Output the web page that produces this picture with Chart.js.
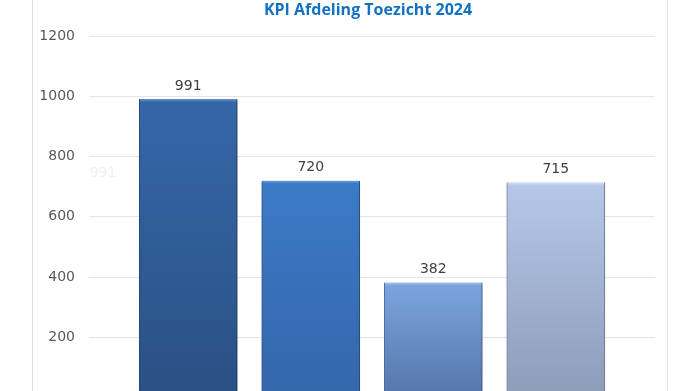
<!DOCTYPE html>
<html>
<head>
<meta charset="utf-8">
<script src="https://cdn.jsdelivr.net/npm/chart.js@4"></script>
<style>
  html, body { margin: 0; padding: 0; background: #ffffff; overflow: hidden; }
  #clip { width: 695px; height: 391px; overflow: hidden; position: relative; }
  #box { width: 695px; height: 420px; position: absolute; left: 0; top: 0; }
</style>
</head>
<body>
<div id="clip"><div id="box"><canvas id="c"></canvas></div></div>
<script>
// ---- data ----
const chartTitle = 'KPI Afdeling Toezicht 2024';
const categories = ['1', '2', '3', '4'];          // x labels are cut off in the reference
const values = [991, 720, 382, 715];
const yTicks = [0, 200, 400, 600, 800, 1000, 1200];
const ghostLabel = '991';

// ---- styles ----
const barTop = ['#3567a8', '#3c7ac6', '#7ba4de', '#b5c7e8'];
const barBottom = ['#2a5084', '#3466ab', '#5475ab', '#8e9bb9'];
const barBevel = ['#6594d2', '#6fa3e6', '#a6c4ee', '#dce6f7'];
const barEdge = ['#244777', '#2d5a97', '#4d6ea4', '#8190ad'];

const tickFont = { family: 'DejaVu Sans', size: 14 };

const framePlugin = {
  id: 'frame',
  beforeDraw(chart) {
    const ctx = chart.ctx;
    ctx.save();
    ctx.strokeStyle = '#e1e1e1';
    ctx.lineWidth = 1;
    ctx.beginPath();
    ctx.moveTo(32.5, 0); ctx.lineTo(32.5, chart.height);
    ctx.moveTo(667.5, 0); ctx.lineTo(667.5, chart.height);
    ctx.stroke();
    // title
    ctx.fillStyle = '#1272c2';
    ctx.font = 'bold 16px "Open Sans"';
    ctx.textAlign = 'center';
    ctx.textBaseline = 'middle';
    ctx.fillText(chartTitle, 368, 10);
    // faint ghost label
    ctx.fillStyle = '#f1f1f1';
    ctx.font = '14px "DejaVu Sans"';
    ctx.fillText(ghostLabel, 103, 173);
    ctx.restore();
  }
};

const shadowPlugin = {
  id: 'barShadow',
  beforeDatasetsDraw(chart) {
    const ctx = chart.ctx;
    ctx.save();
    ctx.shadowColor = 'rgba(0,0,0,0.35)';
    ctx.shadowBlur = 3;
    ctx.shadowOffsetX = 1;
    ctx.shadowOffsetY = 1;
  },
  afterDatasetsDraw(chart) {
    chart.ctx.restore();
    const ctx = chart.ctx;
    const meta = chart.getDatasetMeta(0);
    ctx.save();
    ctx.fillStyle = '#404040';
    ctx.font = '14px "DejaVu Sans"';
    ctx.textAlign = 'center';
    ctx.textBaseline = 'middle';
    meta.data.forEach((bar, i) => {
      ctx.fillText(String(values[i]), bar.x, bar.y - 13);
    });
    ctx.restore();
  }
};

function barFill(context) {
  const chart = context.chart;
  const area = chart.chartArea;
  const i = context.dataIndex;
  if (!area || i === undefined) return barTop[0];
  const yScale = chart.scales.y;
  const top = yScale.getPixelForValue(values[i]);
  const bottom = area.bottom;
  const h = Math.max(bottom - top, 1);
  const g = chart.ctx.createLinearGradient(0, top, 0, bottom);
  g.addColorStop(0, barBevel[i]);
  g.addColorStop(Math.min(3 / h, 0.5), barTop[i]);
  g.addColorStop(1, barBottom[i]);
  return g;
}

new Chart(document.getElementById('c'), {
  type: 'bar',
  data: {
    datasets: [{
      data: values.map((v, i) => ({ x: i, y: v })),
      backgroundColor: barFill,
      borderColor: (ctx) => barEdge[ctx.dataIndex] || barEdge[0],
      borderWidth: { left: 1, right: 1, top: 0, bottom: 0 },
      barThickness: 98
    }]
  },
  options: {
    responsive: true,
    maintainAspectRatio: false,
    animation: false,
    layout: { padding: { left: 0, right: 40, top: 36, bottom: 20.4 } },
    plugins: {
      legend: { display: false },
      tooltip: { enabled: false },
      title: { display: false }
    },
    scales: {
      x: {
        type: 'linear',
        display: false,
        offset: false,
        min: -0.81,
        max: categories.length - 1 + 0.81,
        afterBuildTicks(scale) { scale.ticks = categories.map((_, i) => ({ value: i })); }
      },
      y: {
        min: yTicks[0],
        max: yTicks[yTicks.length - 1],
        afterBuildTicks(scale) { scale.ticks = yTicks.map(v => ({ value: v })); },
        afterFit(scale) { scale.width = 89; },
        border: { display: false },
        grid: { color: '#e4e4e4', lineWidth: 1, drawTicks: false },
        ticks: { color: '#595959', font: tickFont, padding: 14, callback: (v) => String(v) }
      }
    }
  },
  plugins: [framePlugin, shadowPlugin]
});
</script>
</body>
</html>
